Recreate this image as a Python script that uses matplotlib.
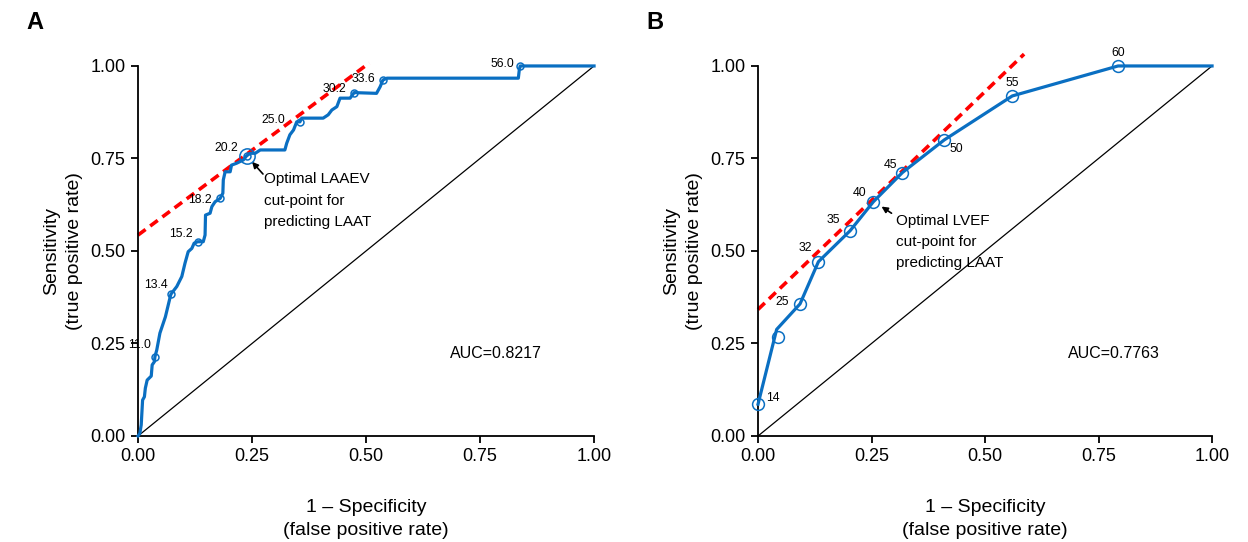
import matplotlib
matplotlib.use("Agg")
import matplotlib.pyplot as plt

plt.rcParams["font.family"] = ["Liberation Sans", "DejaVu Sans"]

# ---- panel A: LAAEV ROC curve (traced) ----
a_fpr = [0.0, 0.004, 0.007, 0.010, 0.014, 0.016, 0.020, 0.029, 0.031, 0.036, 0.037,
         0.041, 0.048, 0.060, 0.069, 0.072, 0.085, 0.096, 0.103, 0.110, 0.118, 0.123,
         0.131, 0.143, 0.147, 0.148, 0.158, 0.162, 0.169, 0.180, 0.186, 0.187, 0.191,
         0.202, 0.205, 0.216, 0.231, 0.238, 0.246, 0.257, 0.268, 0.322, 0.326, 0.333,
         0.341, 0.348, 0.355, 0.359, 0.406, 0.417, 0.425, 0.436, 0.443, 0.465, 0.474,
         0.523, 0.531, 0.537, 0.546, 0.834, 0.836, 0.838, 1.0]
a_tpr = [0.0, 0.007, 0.030, 0.097, 0.106, 0.129, 0.151, 0.162, 0.192, 0.201, 0.214,
         0.232, 0.278, 0.322, 0.368, 0.383, 0.404, 0.431, 0.467, 0.498, 0.507, 0.521,
         0.525, 0.525, 0.543, 0.597, 0.602, 0.620, 0.633, 0.642, 0.656, 0.692, 0.714,
         0.714, 0.732, 0.737, 0.746, 0.757, 0.764, 0.764, 0.773, 0.773, 0.791, 0.814,
         0.827, 0.849, 0.849, 0.859, 0.859, 0.868, 0.881, 0.890, 0.913, 0.913, 0.928,
         0.926, 0.944, 0.962, 0.967, 0.967, 0.989, 1.0, 1.0]

a_cut_fpr = [0.037, 0.072, 0.131, 0.180, 0.238, 0.355, 0.474, 0.537, 0.838]
a_cut_tpr = [0.214, 0.383, 0.525, 0.642, 0.757, 0.849, 0.928, 0.962, 1.0]
a_cut_lbl = ["11.0", "13.4", "15.2", "18.2", "20.2", "25.0", "30.2", "33.6", "56.0"]
a_best = 4
a_tangent_x = [0.0, 0.507]
a_tangent_y = [0.543, 1.008]
a_auc = "AUC=0.8217"

# ---- panel B: LVEF ROC curve ----
b_fpr = [0.0, 0.041, 0.0925, 0.133, 0.203, 0.254, 0.318, 0.41, 0.56, 0.793, 1.0]
b_tpr = [0.086, 0.288, 0.357, 0.471, 0.555, 0.633, 0.712, 0.80, 0.919, 1.0, 1.0]

b_cut_fpr = [0.0, 0.045, 0.0925, 0.133, 0.203, 0.254, 0.318, 0.41, 0.56, 0.793]
b_cut_tpr = [0.086, 0.267, 0.357, 0.471, 0.555, 0.633, 0.712, 0.80, 0.919, 1.0]
b_cut_lbl = ["14", "", "25", "32", "35", "40", "45", "50", "55", "60"]
b_best = 5
b_tangent_x = [0.0, 0.586]
b_tangent_y = [0.342, 1.032]
b_auc = "AUC=0.7763"

ticks = [0.0, 0.25, 0.5, 0.75, 1.0]
tick_lbl = ["0.00", "0.25", "0.50", "0.75", "1.00"]

blue = "#0a6fc2"

# label offsets (pixels) and alignment
a_off = [(-4, 12, "right"), (-3, 9, "right"), (-5, 8, "right"), (-8, -2, "right"),
         (-8, 8, "right"), (-15, 2, "right"), (-8, 4, "right"), (-8, 1, "right"),
         (-6, 2, "right")]
b_off = [(8, 6, "left"), (0, 0, "left"), (-11, 2, "right"), (-6, 14, "right"),
         (-10, 11, "right"), (-7, 9, "right"), (-5, 8, "right"), (5, -9, "left"),
         (0, 13, "center"), (0, 13, "center")]

fig = plt.figure(figsize=(12.48, 5.42), dpi=100)
axA = fig.add_axes([0.1106, 0.1956, 0.3654, 0.6827])
axB = fig.add_axes([0.6074, 0.1956, 0.3638, 0.6827])


def style(ax):
    ax.set_xlim(0, 1)
    ax.set_ylim(0, 1)
    ax.spines["top"].set_visible(False)
    ax.spines["right"].set_visible(False)
    for s in ("left", "bottom"):
        ax.spines[s].set_linewidth(1.3)
    ax.set_xticks(ticks, tick_lbl)
    ax.set_yticks(ticks, tick_lbl)
    ax.tick_params(direction="out", length=5, width=1.3, labelsize=13, pad=4)
    ax.set_xlabel("1 \u2013 Specificity\n(false positive rate)", fontsize=14,
                  labelpad=24, linespacing=1.5)
    ax.set_ylabel("Sensitivity\n(true positive rate)", fontsize=14,
                  labelpad=5, linespacing=1.5)
    ax.plot([0, 1], [0, 1], color="black", lw=0.9, zorder=1)


style(axA)
style(axB)

# panel A
axA.plot(a_tangent_x, a_tangent_y, color="red", lw=2.6, ls=(0, (2.6, 1.6)),
         clip_on=False, zorder=2)
axA.plot(a_fpr, a_tpr, color=blue, lw=2.3, clip_on=False, zorder=3)
axA.plot(a_cut_fpr, a_cut_tpr, ls="none", marker="o", ms=5, mfc="none",
         mec=blue, mew=1.1, clip_on=False, zorder=4)
axA.plot(a_cut_fpr[a_best], a_cut_tpr[a_best], marker="o", ms=11, mfc="none",
         mec=blue, mew=1.1, zorder=4)
for x, y, t, (dx, dy, ha) in zip(a_cut_fpr, a_cut_tpr, a_cut_lbl, a_off):
    axA.annotate(t, (x, y), xytext=(dx, dy), textcoords="offset pixels",
                 ha=ha, va="center", fontsize=8.8)
axA.annotate("", xy=(0.25, 0.741), xytext=(0.274, 0.708),
             arrowprops=dict(arrowstyle="-|>", color="black", lw=1.2,
                             mutation_scale=9, shrinkA=0, shrinkB=0))
axA.text(0.276, 0.636, "Optimal LAAEV\ncut-point for\npredicting LAAT",
         fontsize=11, ha="left", va="center", linespacing=1.65)
axA.text(0.684, 0.224, a_auc, fontsize=11.5, ha="left", va="center")

# panel B
axB.plot(b_tangent_x, b_tangent_y, color="red", lw=2.6, ls=(0, (2.6, 1.6)),
         clip_on=False, zorder=2)
axB.plot(b_fpr, b_tpr, color=blue, lw=2.3, clip_on=False, zorder=3)
axB.plot(b_cut_fpr, b_cut_tpr, ls="none", marker="o", ms=8.5, mfc="none",
         mec=blue, mew=1.1, clip_on=False, zorder=4)
for x, y, t, (dx, dy, ha) in zip(b_cut_fpr, b_cut_tpr, b_cut_lbl, b_off):
    if t:
        axB.annotate(t, (x, y), xytext=(dx, dy), textcoords="offset pixels",
                     ha=ha, va="center", fontsize=8.8)
axB.annotate("", xy=(0.272, 0.62), xytext=(0.294, 0.602),
             arrowprops=dict(arrowstyle="-|>", color="black", lw=1.2,
                             mutation_scale=9, shrinkA=0, shrinkB=0))
axB.text(0.304, 0.524, "Optimal LVEF\ncut-point for\npredicting LAAT",
         fontsize=11, ha="left", va="center", linespacing=1.65)
axB.text(0.683, 0.224, b_auc, fontsize=11.5, ha="left", va="center")

fig.text(0.028, 0.958, "A", fontsize=17, fontweight="bold", ha="center", va="center")
fig.text(0.525, 0.958, "B", fontsize=17, fontweight="bold", ha="center", va="center")

fig.savefig("out.png", dpi=100)
